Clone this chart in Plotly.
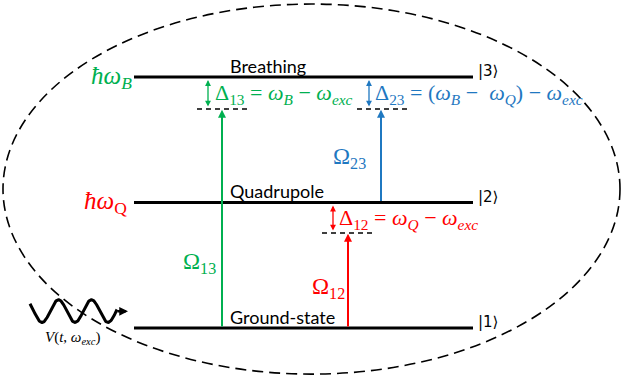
import numpy as np
import plotly.graph_objects as go

# ---- level scheme (energies in units of the level spacing) ----
level_names = ["Ground-state", "Quadrupole", "Breathing"]
level_kets = ["|1⟩", "|2⟩", "|3⟩"]
level_energy = [0.0, 1.0, 2.0]

# ---- drive-induced transitions ----
trans_ids = ["12", "13", "23"]
trans_from = [0.0, 0.0, 1.0]          # starting level energy
trans_virtual = [0.757, 1.745, 1.745]  # virtual level reached by the drive
trans_target = [1.0, 2.0, 2.0]         # real level the virtual one is detuned from
trans_rabi = ["Ω<sub>12</sub>", "Ω<sub>13</sub>", "Ω<sub>23</sub>"]
trans_detuning = [
    "Δ<sub>12</sub> = <i>ω<sub>Q</sub></i> − <i>ω<sub>exc</sub></i>",
    "Δ<sub>13</sub> = <i>ω<sub>B</sub></i> − <i>ω<sub>exc</sub></i>",
    "Δ<sub>23</sub> = (<i>ω<sub>B</sub></i> −  <i>ω<sub>Q</sub></i>) − <i>ω<sub>exc</sub></i>",
]

GREEN = "#00B050"
RED = "#FF0000"
BLUE = "#1F78C1"
trans_color = [RED, GREEN, BLUE]

# horizontal placement of each transition (arrow x, detuning arrow x, dash span, label x)
trans_arrow_x = [348, 222, 381]
trans_delta_x = [333, 208, 369]
trans_dash = [(322, 373), (197, 250), (357, 408)]
trans_text_x = [337, 213, 373]
trans_rabi_pos = [(328, 0.319), (199, 0.518), (349, 1.355)]

MATH = "Liberation Serif"
SANS = "Lato"

fig = go.Figure()
shapes = []
ann = []

# outer dashed ellipse
shapes.append(dict(type="circle", xref="x", yref="y", x0=3, x1=620, y0=-0.367, y1=2.582,
                   line=dict(color="black", width=1.6, dash="11px,6px")))

# energy levels with names and kets
for name, ket, e in zip(level_names, level_kets, level_energy):
    shapes.append(dict(type="line", xref="x", yref="y", x0=134, x1=473, y0=e, y1=e,
                       line=dict(color="black", width=3)))
    ann.append(dict(x=228, y=e + 0.09, text=name, showarrow=False, xanchor="left",
                    yanchor="middle", font=dict(family=SANS, size=18, color="black")))
    ann.append(dict(x=476, y=e + 0.046, text=ket, showarrow=False, xanchor="left",
                    yanchor="middle", font=dict(family="DejaVu Sans", size=15, color="black")))

# level energies on the left
ann.append(dict(x=111, y=2.0, text="<i>ħω<sub>B</sub></i>", showarrow=False,
                font=dict(family=MATH, size=25, color=GREEN)))
ann.append(dict(x=105, y=1.0, text="<i>ħω</i><sub>Q</sub>", showarrow=False,
                font=dict(family=MATH, size=25, color=RED)))

for i in range(len(trans_ids)):
    col = trans_color[i]
    xv = trans_virtual[i]
    # dashed virtual level
    d0, d1 = trans_dash[i]
    shapes.append(dict(type="line", xref="x", yref="y", x0=d0, x1=d1, y0=xv, y1=xv,
                       line=dict(color="black", width=1.5, dash="5px,4px")))
    # drive arrow from the initial level to the virtual level
    ann.append(dict(x=trans_arrow_x[i], y=xv - 0.005, ax=trans_arrow_x[i], ay=trans_from[i],
                    axref="x", ayref="y", xref="x", yref="y", text="", showarrow=True,
                    arrowhead=2, arrowsize=0.8, arrowwidth=2, arrowcolor=col,
                    standoff=0, startstandoff=0))
    # detuning double arrow
    ann.append(dict(x=trans_delta_x[i], y=trans_target[i] - 0.024, ax=trans_delta_x[i],
                    ay=xv + 0.008, axref="x", ayref="y", xref="x", yref="y", text="",
                    showarrow=True, arrowhead=2, arrowside="end+start", arrowsize=0.9,
                    arrowwidth=1.3, arrowcolor=col, standoff=0, startstandoff=0))
    # detuning expression
    ann.append(dict(x=trans_text_x[i], y=(trans_target[i] + xv) / 2 - 0.01,
                    text=trans_detuning[i], showarrow=False, xanchor="left", yanchor="middle",
                    font=dict(family=MATH, size=22, color=col)))
    # Rabi frequency label
    rx, ry = trans_rabi_pos[i]
    ann.append(dict(x=rx, y=ry, text=trans_rabi[i], showarrow=False,
                    font=dict(family=MATH, size=23, color=col)))

# incoming drive wave V(t, ω_exc)
wx = np.linspace(30, 117, 200)
wy = 0.135 - 0.09 * np.cos(2 * np.pi * (wx - 42) / 33)
fig.add_trace(go.Scatter(x=wx, y=wy, mode="lines", line=dict(color="black", width=3),
                         hoverinfo="skip", showlegend=False))
ann.append(dict(x=128, y=0.133, ax=116, ay=0.133, axref="x", ayref="y", xref="x", yref="y",
                text="", showarrow=True, arrowhead=2, arrowsize=0.7, arrowwidth=2.5,
                arrowcolor="black", standoff=0, startstandoff=0))
ann.append(dict(x=72, y=-0.08, text="<i>V</i>(<i>t</i>, <i>ω<sub>exc</sub></i>)",
                showarrow=False, font=dict(family=MATH, size=15, color="black")))

fig.update_layout(
    width=623, height=379,
    margin=dict(l=0, r=0, t=0, b=0),
    paper_bgcolor="white", plot_bgcolor="white",
    xaxis=dict(range=[0, 623], visible=False, fixedrange=True),
    yaxis=dict(range=[-0.406, 2.614], visible=False, fixedrange=True),
    shapes=shapes, annotations=ann, showlegend=False,
)

fig.write_html("out.html")
